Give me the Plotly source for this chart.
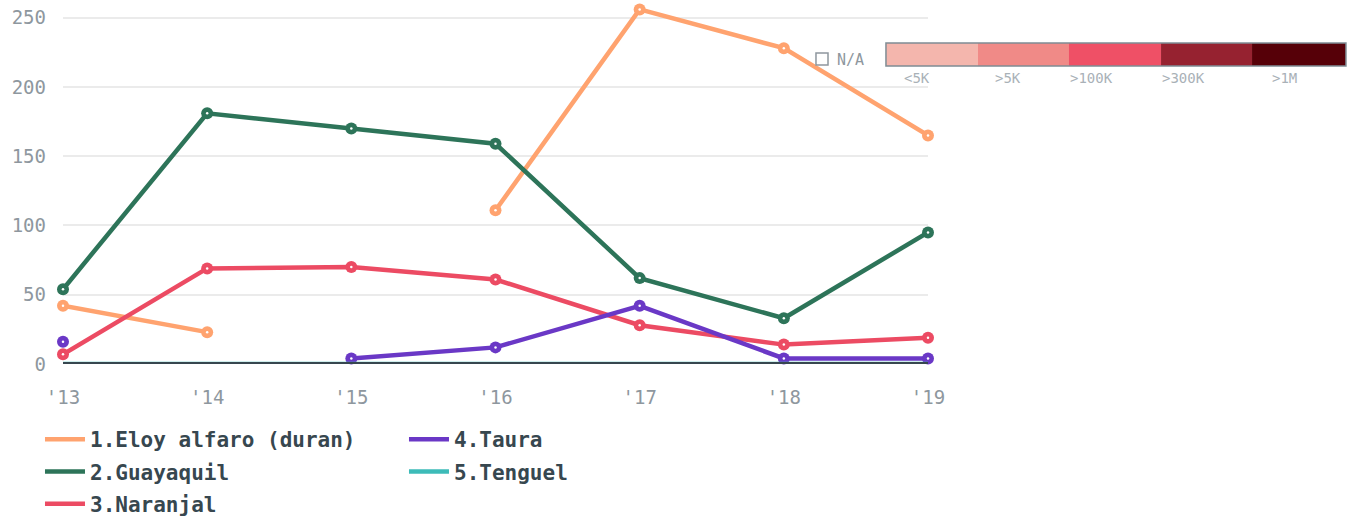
import plotly.graph_objects as go

years = [2013, 2014, 2015, 2016, 2017, 2018, 2019]
year_labels = ["'13", "'14", "'15", "'16", "'17", "'18", "'19"]

eloy_alfaro = [42, 23, None, 111, 256, 228, 165]
guayaquil = [54, 181, 170, 159, 62, 33, 95]
naranjal = [7, 69, 70, 61, 28, 14, 19]
taura = [16, None, 4, 12, 42, 4, 4]
tenguel = [0, 0, 0, 0, 0, 0, 0]

series_names = ["1.Eloy alfaro (duran)", "2.Guayaquil", "3.Naranjal", "4.Taura", "5.Tenguel"]
series_values = [eloy_alfaro, guayaquil, naranjal, taura, tenguel]
series_colors = ["#FFA36F", "#2D7459", "#EC4B63", "#6A38C6", "#3DBBB8"]
legend_column = ["legend", "legend", "legend", "legend2", "legend2"]
show_markers = [True, True, True, True, False]

scale_labels = ["<5K", ">5K", ">100K", ">300K", ">1M"]
scale_colors = ["#F4B6AD", "#F08A87", "#EF5066", "#962230", "#560008"]

FONT = "DejaVu Sans Mono"
TICK_COLOR = "#8E979E"
TEXT_DARK = "#37474F"

fig = go.Figure()

for name, vals, col, leg, mk in zip(series_names, series_values, series_colors, legend_column, show_markers):
    fig.add_trace(go.Scatter(
        x=years, y=vals, name=name, mode="lines",
        line=dict(color=col, width=4.5),
        cliponaxis=False, legend=leg, legendgroup=name, hoverinfo="skip",
    ))
    if mk:
        fig.add_trace(go.Scatter(
            x=years, y=vals, mode="markers",
            marker=dict(size=12, color=col),
            showlegend=False, cliponaxis=False, hoverinfo="skip",
        ))
        fig.add_trace(go.Scatter(
            x=years, y=vals, mode="markers",
            marker=dict(size=2.5, color="white"),
            showlegend=False, cliponaxis=False, hoverinfo="skip",
        ))

# zero baseline drawn above the lines
fig.add_shape(type="line", xref="paper", yref="y", x0=0, x1=1, y0=0, y1=0,
              line=dict(color=TEXT_DARK, width=4), layer="above")

# map-style colour scale legend (top right)
seg_edges = [0.9514, 1.0578, 1.1630, 1.2694, 1.3746, 1.4832]
y0, y1 = 0.8371, 0.9017
for i, (lab, c) in enumerate(zip(scale_labels, scale_colors)):
    fig.add_shape(type="rect", xref="paper", yref="paper",
                  x0=seg_edges[i], x1=seg_edges[i + 1], y0=y0, y1=y1,
                  fillcolor=c, line=dict(width=0), layer="above")
    fig.add_annotation(xref="paper", yref="paper",
                       x=(seg_edges[i] + seg_edges[i + 1]) / 2, y=0.8034,
                       yanchor="middle",
                       text=lab, showarrow=False,
                       font=dict(family=FONT, size=14, color="#A9B1B7"))
fig.add_shape(type="rect", xref="paper", yref="paper",
              x0=seg_edges[0], x1=seg_edges[-1], y0=y0, y1=y1,
              fillcolor="rgba(0,0,0,0)", line=dict(color="#7F8C94", width=1.5), layer="above")
fig.add_shape(type="rect", xref="paper", yref="paper",
              x0=0.8705, x1=0.8844, y0=0.8399, y1=0.8736,
              fillcolor="white", line=dict(color="#8E979E", width=1.5), layer="above")
fig.add_annotation(xref="paper", yref="paper", x=0.8925, y=0.8553,
                   xanchor="left", yanchor="middle",
                   text="N/A", showarrow=False,
                   font=dict(family=FONT, size=15, color="#8E979E"))

legend_style = dict(
    orientation="v", yanchor="top", xanchor="left",
    itemwidth=40, tracegroupgap=2,
    font=dict(family=FONT, size=21, color=TEXT_DARK, weight="bold"),
    bgcolor="rgba(0,0,0,0)",
)

fig.update_layout(
    width=1353, height=520,
    margin=dict(l=63, r=425, t=8, b=156, autoexpand=False),
    paper_bgcolor="white", plot_bgcolor="white",
    font=dict(family=FONT, color=TEXT_DARK),
    showlegend=True,
    legend=dict(x=-0.0266, y=-0.1545, **legend_style),
    legend2=dict(x=0.3942, y=-0.1545, **legend_style),
    xaxis=dict(
        range=[2013, 2019], tickvals=years, ticktext=year_labels,
        showgrid=False, zeroline=False, showline=False, ticks="",
        tickfont=dict(family=FONT, size=19, color=TICK_COLOR),
        ticklabelstandoff=20, automargin=False,
    ),
    yaxis=dict(
        range=[0, 257], tickvals=[0, 50, 100, 150, 200, 250],
        showgrid=True, gridcolor="#EBEBEB", gridwidth=1.5,
        zeroline=False, showline=False, ticks="",
        tickfont=dict(family=FONT, size=19, color=TICK_COLOR),
        ticklabelstandoff=16, automargin=False,
    ),
)

fig.write_html(
    "out.html",
    config={"displayModeBar": False},
    post_script="document.body.style.margin='0';document.body.style.overflow='hidden';",
)
